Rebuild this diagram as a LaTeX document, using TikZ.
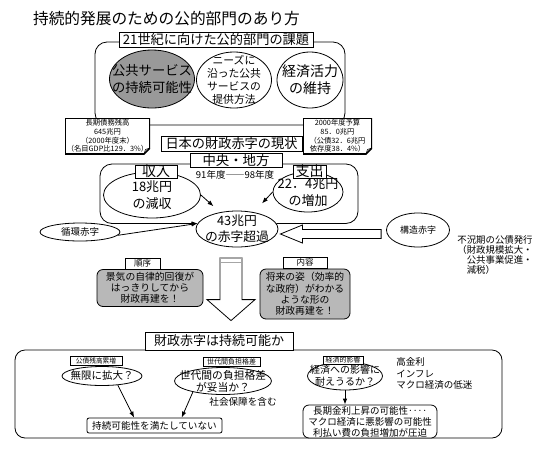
\documentclass[tikz,border=0pt]{standalone}
\usepackage{fontspec}
\setmainfont{Noto Sans CJK JP}
\usetikzlibrary{arrows.meta, shapes.geometric, calc}

\begin{document}
\begin{tikzpicture}[
  x=1pt, y=-1pt,
  line width=0.8pt,
  >={Latex[length=6pt, width=4.5pt]},
  fs/.style 2 args = {font=\fontsize{#1}{#2}\selectfont},
  tag/.style    = {rectangle, draw, fill=white, inner sep=0pt, align=center},
  oval/.style   = {ellipse, draw, fill=white, inner xsep=-80pt, inner ysep=-80pt,
                   align=center},
  memo/.style   = {rectangle, fill=white, inner sep=0pt, align=center, fs={7.3}{8.6},
                   path picture={
                     \coordinate (mNW) at (path picture bounding box.north west);
                     \coordinate (mNE) at (path picture bounding box.north east);
                     \coordinate (mSE) at (path picture bounding box.south east);
                     \coordinate (mSW) at (path picture bounding box.south west);
                     \draw[line width=1.6pt] (mNW) -- (mNE) -- ($(mSE)+(0,-6)$)
                       -- ($(mSE)+(-6,0)$) -- (mSW) -- cycle;
                     \draw[line width=0.6pt] ($(mSE)+(-6,0)$) -- ($(mSE)+(-4.5,-4.5)$)
                       -- ($(mSE)+(0,-6)$);}},
  gbox/.style   = {rectangle, rounded corners=6pt, draw, fill=black!28, inner sep=0pt,
                   align=center, fs={9.8}{11}},
  txt/.style    = {inner sep=0pt, align=left},
  hollow/.style = {draw, fill=white},
  arr/.style    = {->}]

\useasboundingbox (0,0) rectangle (544,451);
\fill[white] (0,0) rectangle (544,451);

% ---- title ------------------------------------------------------------------
\node[fs={15.7}{18}] (title) at (166.5,18.5) {持続的発展のための公的部門のあり方};

% ---- top: tasks of the public sector ---------------------------------------
\draw[rounded corners=12pt] (95,42) rectangle (345,125);
\node[tag, fs={13.2}{15}, minimum width=194, minimum height=15] (kadai) at (216,39.5)
  {21世紀に向けた公的部門の課題};
\node[oval, fill=black!40, fs={13.3}{17}, minimum width=85, minimum height=58]
  (kokyo) at (152,79) {公共サービス\\の持続可能性};
\node[oval, fs={10.8}{13}, minimum width=75, minimum height=56] (needs) at (234,80)
  {ニーズに\\沿った公共\\サービスの\\提供方法};
\node[oval, fs={14}{17}, minimum width=66, minimum height=56] (katsuryoku) at (310,80)
  {経済活力\\の維持};

% notes on debt and budget
\node[memo, minimum width=85, minimum height=36] (saimu) at (107.5,136)
  {長期債務残高\\645兆円\\（2000年度末）\\（名目GDP比129．3\%）};
\node[memo, minimum width=69, minimum height=36] (yosan) at (337.5,136)
  {2000年度予算\\85．0兆円\\（公債32．6兆円\\依存度38．4\%）};

% ---- middle: the deficit today ---------------------------------------------
\node[oval, fs={12.8}{16}, minimum width=82, minimum height=36] (akaji) at (237,229)
  {43兆円\\の赤字超過};
\coordinate (midNE) at (358,164);
\coordinate (midSW) at (100,223.5);
\draw[arr, rounded corners=12pt] (akaji.8) -| (midNE) -| (midSW) -- (akaji.172);

\node[tag, fs={13.2}{15}, minimum width=141, minimum height=15] (genjo) at (231.5,143.5)
  {日本の財政赤字の現状};
\node[tag, fs={13.4}{15}, minimum width=92, minimum height=14] (chuo) at (236,160)
  {中央・地方};

\node[oval, fs={13}{17}, minimum width=97, minimum height=46] (genshu) at (152,195)
  {18兆円\\の減収};
\node[tag, fs={14}{15}, minimum width=42, minimum height=13] (shunyu) at (156,171.5) {収入};
\node[oval, fs={13}{17}, minimum width=70, minimum height=40] (zouka) at (308,192)
  {22．4兆円\\の増加};
\node[tag, fs={14}{15}, minimum width=33, minimum height=13] (shishutsu) at (309.5,171.5) {支出};
\node[fs={9.5}{11}, inner sep=0pt] (nendo) at (235,175) {91年度――98年度};

\draw[arr, shorten >=9pt] (genshu.east) -- (akaji.135);
\draw[arr, shorten >=12pt] (zouka.west) -- (akaji.45);

% cyclical and structural deficit
\node[oval, fs={9.5}{11}, minimum width=80, minimum height=18] (junkan) at (80,232) {循環赤字};
\draw[arr] (junkan.-5) -- (akaji.172);

\node[oval, fs={9}{11}, minimum width=63, minimum height=34] (kozo) at (418,230) {構造赤字};
\coordinate (kh) at ($(akaji.east)+(2,5)$);
\coordinate (kt) at ($(kh -| kozo.west)+(-5,0)$);
\draw[hollow] (kh) -- ($(kh)+(22,-9)$) -- ($(kh)+(22,-4.5)$) -- ($(kt)+(0,-4.5)$)
  -- ($(kt)+(0,4.5)$) -- ($(kh)+(22,4.5)$) -- ($(kh)+(22,9)$) -- cycle;
\node[txt, fs={9.4}{10}, anchor=west] (fukyo) at (457,255)
  {不況期の公債発行\\（財政規模拡大・\\　公共事業促進・\\　減税）};

% ---- order and content of the reconstruction -------------------------------
\node[gbox, minimum width=106, minimum height=37] (keiki) at (150,288)
  {景気の自律的回復が\\はっきりしてから\\財政再建を！};
\node[tag, fs={8.5}{10}, minimum width=35, minimum height=11] (junjo) at (142.5,263.5) {順序};
\node[gbox, fs={9.8}{11.3}, minimum width=90, minimum height=50] (shorai) at (305,294)
  {将来の姿（効率的\\な政府）がわかる\\ような形の\\財政再建を！};
\node[tag, fs={8.5}{10}, minimum width=44, minimum height=11] (naiyo) at (305,262.5) {内容};

% ---- bottom: is the deficit sustainable? -----------------------------------
\draw[rounded corners=10pt] (15,350) rectangle (502,438);
\node[tag, fs={13}{15}, minimum width=148, minimum height=18] (jizoku) at (219,341)
  {財政赤字は持続可能か};

\coordinate (dt) at ($(akaji.south)+(-6,10)$);
\coordinate (dh) at ($(dt |- jizoku.north)+(0,-11)$);
\draw[hollow] ($(dt)+(-11,0)$) -- ($(dh)+(-11,-21)$) -- ($(dh)+(-24,-21)$) -- (dh)
  -- ($(dh)+(24,-21)$) -- ($(dh)+(11,-21)$) -- ($(dt)+(11,0)$);
\fill[black!35] ($(dt)+(-11,0)$) rectangle ($(dt)+(11,2)$);
\fill[black!35] ($(dt)+(-11,4.5)$) rectangle ($(dt)+(11,6)$);

\node[oval, fs={10.5}{12}, minimum width=80, minimum height=19] (mugen) at (102,376)
  {無限に拡大？};
\node[tag, fs={6.7}{8}, minimum width=52, minimum height=9] (kosai) at (96,361) {公債残高累増};
\node[oval, fs={10.8}{12}, minimum width=97, minimum height=27] (sedai) at (223,381)
  {世代間の負担格差\\が妥当か？};
\node[tag, fs={7}{8}, minimum width=57, minimum height=9] (sedaitag) at (231.5,361.5)
  {世代間負担格差};
\node[fs={9.6}{11}, inner sep=0pt] (shakai) at (243,402) {社会保障を含む};
\node[tag, rounded corners=2pt, fs={9.6}{11}, minimum width=135, minimum height=15]
  (mitasanai) at (154.5,425.5) {持続可能性を満たしていない};
\draw[arr] (mugen.-30) -- ($(mitasanai.north west)!.35!(mitasanai.north east)$);
\draw[arr] (sedai.200) -- ($(mitasanai.north west)!.70!(mitasanai.north east)$);

\node[oval, fs={10}{12}, minimum width=75, minimum height=28] (eikyo) at (345,376)
  {経済への影響に\\耐えうるか？};
\node[tag, fs={7}{8}, minimum width=40, minimum height=8] (keizaitag) at (343,360) {経済的影響};
\node[txt, fs={9.5}{11.5}, anchor=west] (kokinri) at (396,373.5)
  {高金利\\インフレ\\マクロ経済の低迷};
\node[tag, rounded corners=6pt, fs={9.5}{11}, minimum width=134, minimum height=33]
  (choki) at (370,421.5)
  {長期金利上昇の可能性‥‥\\マクロ経済に悪影響の可能性\\利払い費の負担増加が圧迫};
\draw[arr] (eikyo.south) -- (eikyo.south |- choki.north);

\end{tikzpicture}
\end{document}
